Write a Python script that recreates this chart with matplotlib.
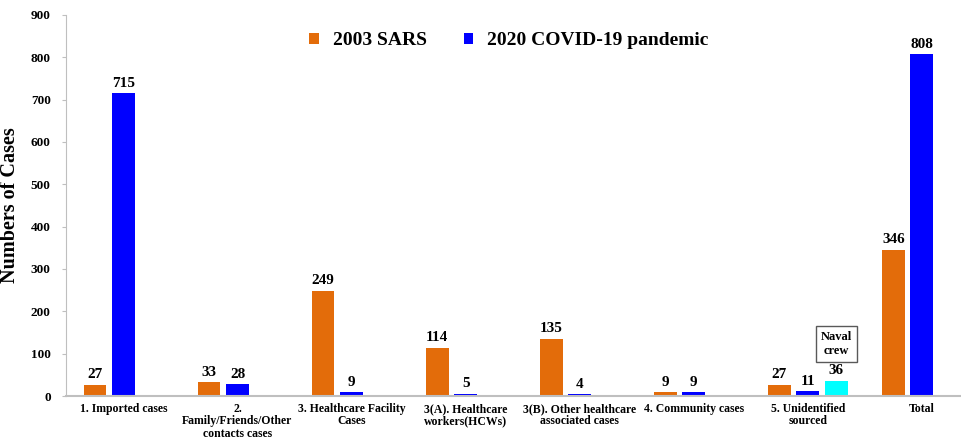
import matplotlib.pyplot as plt
import numpy as np

plt.rcParams['font.family'] = ['Liberation Serif', 'DejaVu Serif']
plt.rcParams['font.weight'] = 'bold'

categories = [
    "1. Imported cases",
    "2.\nFamily/Friends/Other\ncontacts cases",
    "3. Healthcare Facility\nCases",
    "3(A). Healthcare\nworkers(HCWs)",
    "3(B). Other healthcare\nassociated cases",
    "4. Community cases",
    "5. Unidentified\nsourced",
    "Total",
]
sars_2003 = [27, 33, 249, 114, 135, 9, 27, 346]
covid_2020 = [715, 28, 9, 5, 4, 9, 11, 808]
naval_index = 6
naval_crew = 36

ORANGE = "#E36C0A"
BLUE = "#0000FF"
CYAN = "#00FFFF"

x = np.arange(len(categories))
w = 0.2
off = 0.25

fig = plt.figure(figsize=(9.62, 4.4), dpi=100)
ax = fig.add_axes([0.0686, 0.1, 0.93, 0.866])

b1 = ax.bar(x - off, sars_2003, w, color=ORANGE, label="2003 SARS")
b2 = ax.bar(x, covid_2020, w, color=BLUE, label="2020 COVID-19 pandemic")
b3 = ax.bar([x[naval_index] + off], [naval_crew], w, color=CYAN)

for bars in (b1, b2, b3):
    for bar in bars:
        h = bar.get_height()
        ax.text(bar.get_x() + bar.get_width() / 2, h + 8, "{}".format(int(h)),
                ha="center", va="bottom", fontsize=11, fontweight="bold")

ax.text(x[naval_index] + off, 92, "Naval\ncrew", ha="center", va="bottom",
        fontsize=9, fontweight="bold", linespacing=1.25,
        bbox=dict(boxstyle="square,pad=0.4", fc="white", ec="#595959", lw=1))

ax.set_xlim(-0.504, 7.34)
ax.set_ylim(0, 900)
ax.set_yticks(range(0, 901, 100))
ax.set_xticks(x)
ax.set_xticklabels(categories, fontsize=8.5, fontweight="bold", linespacing=1.05)
ax.tick_params(axis="x", length=0, pad=5)
ax.tick_params(axis="y", length=3, color="#bfbfbf", labelsize=9.5, pad=8)

for s in ("top", "right"):
    ax.spines[s].set_visible(False)
ax.spines["left"].set_color("#bfbfbf")
ax.spines["bottom"].set_color("#bfbfbf")
ax.spines["bottom"].set_linewidth(1.5)

ax.set_ylabel("Numbers of Cases", fontsize=14.5, fontweight="bold")
ax.yaxis.set_label_coords(-0.051, 0.5)

ax.legend(loc="upper center", bbox_to_anchor=(0.495, 1.0), ncol=2, frameon=False,
          prop={"size": 14, "weight": "bold"}, handlelength=0.5, handleheight=0.5,
          columnspacing=1.9, handletextpad=0.7)

fig.savefig("out.png", dpi=100)
